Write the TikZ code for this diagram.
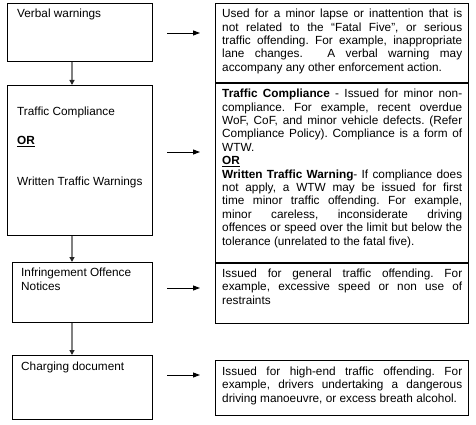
\documentclass[tikz,border=0pt]{standalone}
\usepackage{fontspec}
\setmainfont{Liberation Sans}
\usetikzlibrary{arrows.meta, positioning, calc}

\begin{document}
\begin{tikzpicture}[
  x=1pt, y=-1pt,
  font=\fontsize{11.8}{13.4}\selectfont\frenchspacing,
  box/.style={rectangle, draw, line width=0.9pt, anchor=north west, inner sep=0pt},
  ltext/.style={anchor=north west, inner sep=0pt, align=left},
  rtext/.style={anchor=north west, inner sep=0pt, text width=240pt, align=justify},
  downarrow/.style={draw=gray, line width=1.6pt, -{Triangle[length=5pt, width=5pt, color=black!85]}},
  sidearrow/.style={line width=0.9pt, -{Triangle[length=7pt, width=5pt]}}
]
\useasboundingbox (0,0) rectangle (476,425);

% Left column
\node[box, minimum width=145pt, minimum height=58pt] (verbal) at (7,3) {};
\node[box, minimum width=145pt, minimum height=150pt] (compl) at (7,85) {};
\node[box, minimum width=140pt, minimum height=60pt] (infr) at (12,262) {};
\node[box, minimum width=140pt, minimum height=64pt] (charge) at (12,355) {};

\node[ltext] (verbal-txt) at ([shift={(10,6)}]verbal.north west) {Verbal warnings};
\node[ltext] (compl-txt) at ([shift={(10,22)}]compl.north west)
  {Traffic Compliance\\[15.6pt]\textbf{\underline{OR}}\\[27.6pt]Written Traffic Warnings};
\node[ltext] (infr-txt) at ([shift={(9,6)}]infr.north west) {Infringement Offence\\Notices};
\node[ltext] (charge-txt) at ([shift={(9,7)}]charge.north west) {Charging document};

% Down arrows
\coordinate (spine) at (72,0);
\draw[downarrow] (verbal.south -| spine) -- (compl.north -| spine);
\draw[downarrow] (compl.south -| spine) -- (infr.north -| spine);
\draw[downarrow] (infr.south -| spine) -- (charge.north -| spine);

% Right column
\node[box, minimum width=253pt, minimum height=79pt] (fatal) at (215,3) {};
\node[box, minimum width=253pt, minimum height=179pt, below=0pt of fatal] (wtw) {};
\node[box, minimum width=253pt, minimum height=60pt, below=0pt of wtw] (general) {};
\node[box, minimum width=253pt, minimum height=55pt, below=36pt of general] (highend) {};

\node[rtext] (fatal-txt) at ([shift={(7,6)}]fatal.north west)
  {Used for a minor lapse or inattention that is\linebreak
   not related to the “Fatal Five”, or serious\linebreak
   traffic offending. For example, inappropriate\linebreak
   lane changes.\hspace{1.2em} A verbal warning may\linebreak
   accompany any other enforcement action.};
\node[rtext] (wtw-txt) at ([shift={(7,6)}]wtw.north west)
  {\textbf{Traffic Compliance} - Issued for minor non-\linebreak
   compliance. For example, recent overdue\linebreak
   WoF, CoF, and minor vehicle defects. (Refer\linebreak
   Compliance Policy). Compliance is a form of\linebreak
   WTW.\\
   \textbf{\underline{OR}}\\
   \textbf{Written Traffic Warning}- If compliance does\linebreak
   not apply, a WTW may be issued for first\linebreak
   time minor traffic offending. For example,\linebreak
   minor careless, inconsiderate driving\linebreak
   offences or speed over the limit but below the\linebreak
   tolerance (unrelated to the fatal five).};
\node[rtext] (general-txt) at ([shift={(7,6)}]general.north west)
  {Issued for general traffic offending. For\linebreak
   example, excessive speed or non use of\linebreak
   restraints};
\node[rtext] (highend-txt) at ([shift={(7,7)}]highend.north west)
  {Issued for high-end traffic offending. For\linebreak
   example, drivers undertaking a dangerous\linebreak
   driving manoeuvre, or excess breath alcohol.};

% Side arrows
\foreach \y/\n in {33/1, 152/2, 288/3, 375/4} {
  \coordinate (tail\n) at (167,\y);
  \coordinate (head\n) at (200,\y);
  \draw[sidearrow] (tail\n) -- (head\n);
}

\end{tikzpicture}
\end{document}
